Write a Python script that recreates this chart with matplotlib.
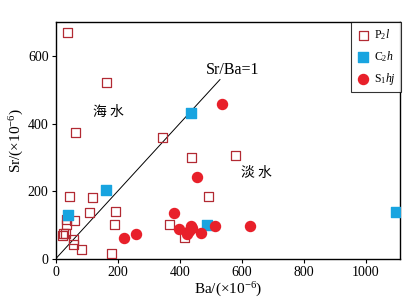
import matplotlib
matplotlib.use("Agg")
import matplotlib.pyplot as plt

plt.rcParams['font.family'] = ['Liberation Serif', 'Noto Sans CJK SC', 'DejaVu Sans']
plt.rcParams['mathtext.fontset'] = 'custom'
plt.rcParams['mathtext.rm'] = 'Liberation Serif'
plt.rcParams['mathtext.it'] = 'Liberation Serif:italic'

p2l_ba = [40, 163, 63, 346, 437, 581, 494, 44, 120, 111, 193, 189, 179, 83, 57, 57, 60, 36, 36, 25, 23, 32, 367, 417]
p2l_sr = [668, 520, 375, 360, 301, 307, 186, 186, 181, 137, 139, 103, 17, 27, 58, 44, 115, 117, 103, 74, 68, 76, 103, 63]

c2h_ba = [41, 163, 437, 487, 1097]
c2h_sr = [129, 203, 431, 100, 139]

s1hj_ba = [538, 455, 381, 221, 258, 399, 436, 439, 431, 424, 468, 514, 627]
s1hj_sr = [457, 243, 137, 61, 73, 88, 98, 91, 84, 73, 78, 98, 98]

line_x = [0, 530]
line_y = [0, 530]

fig = plt.figure(figsize=(4.19, 3.04), dpi=100)
ax = fig.add_axes([0.1325, 0.148, 0.822, 0.7796])

ax.plot(line_x, line_y, color='black', lw=0.7, zorder=1)
ax.scatter(p2l_ba, p2l_sr, marker='s', s=42, facecolors='none', edgecolors='#b22a33', linewidths=0.9, label='P$_2$$\\mathit{l}$', zorder=3)
ax.scatter(c2h_ba, c2h_sr, marker='s', s=48, color='#18a4e0', label='C$_2$$\\mathit{h}$', zorder=3)
ax.scatter(s1hj_ba, s1hj_sr, marker='o', s=52, color='#e8202a', label='S$_1$$\\mathit{hj}$', zorder=3)

ax.set_xlim(0, 1110)
ax.set_ylim(0, 700)
ax.set_xticks([0, 200, 400, 600, 800, 1000])
ax.set_yticks([0, 200, 400, 600])
ax.tick_params(labelsize=10, direction='out', length=3, width=0.8, pad=2)
for s in ax.spines.values():
    s.set_linewidth(1.0)

ax.set_xlabel('Ba/(×10$^{-6}$)', fontsize=11, labelpad=1)
ax.set_ylabel('Sr/(×10$^{-6}$)', fontsize=11, labelpad=1)

ax.text(169, 434, '海 水', fontsize=10, ha='center', va='center', family=['Noto Sans CJK SC'])
ax.text(649, 254, '淡 水', fontsize=10, ha='center', va='center', family=['Noto Sans CJK SC'])
ax.text(570, 558, 'Sr/Ba=1', fontsize=11.5, ha='center', va='center')

leg = ax.legend(loc='upper right', bbox_to_anchor=(1.004, 1.0), fontsize=8.5, frameon=True, fancybox=False,
                edgecolor='black', handletextpad=0.3, borderpad=0.45, labelspacing=0.6, handlelength=1.2,
                borderaxespad=0)
leg.get_frame().set_linewidth(0.8)

fig.savefig('out.png', dpi=100)
